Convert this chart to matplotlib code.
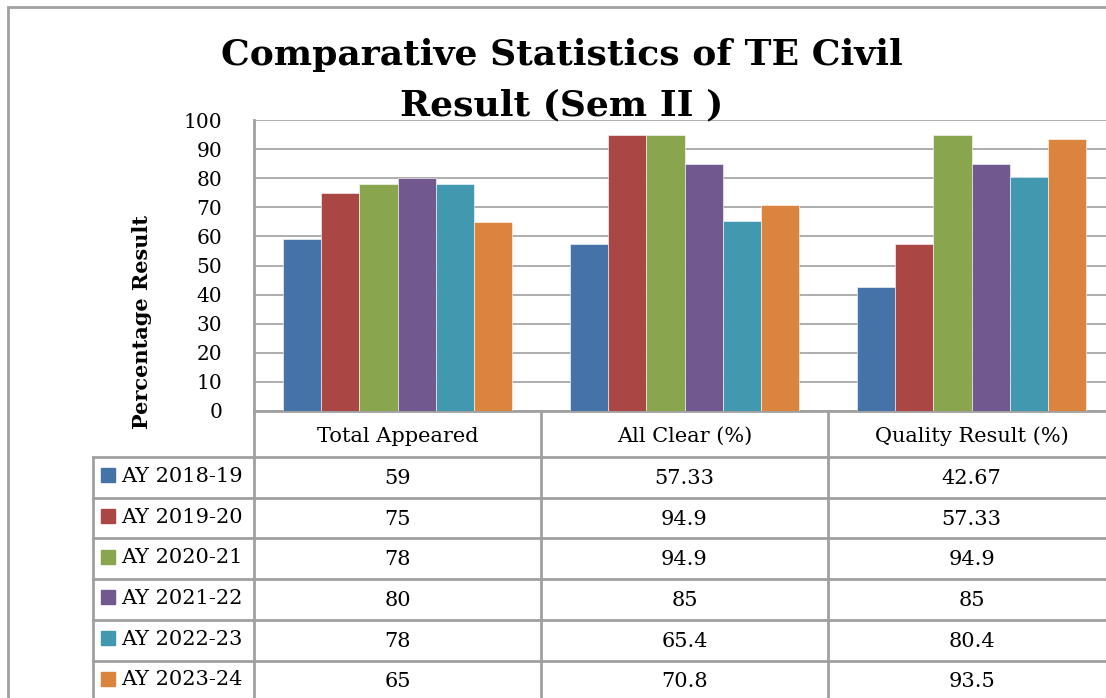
import matplotlib
matplotlib.use("Agg")
import matplotlib.pyplot as plt
from matplotlib.patches import Rectangle
from matplotlib.lines import Line2D

categories = ["Total Appeared", "All Clear (%)", "Quality Result (%)"]
years = ["AY 2018-19", "AY 2019-20", "AY 2020-21", "AY 2021-22", "AY 2022-23", "AY 2023-24"]
v2018 = [59, 57.33, 42.67]
v2019 = [75, 94.9, 57.33]
v2020 = [78, 94.9, 94.9]
v2021 = [80, 85, 85]
v2022 = [78, 65.4, 80.4]
v2023 = [65, 70.8, 93.5]
series = [v2018, v2019, v2020, v2021, v2022, v2023]
colors = ["#4572A7", "#AA4643", "#89A54E", "#71588F", "#4198AF", "#DB843D"]
yticks = [0, 10, 20, 30, 40, 50, 60, 70, 80, 90, 100]

W, H = 1106, 698
FONT = "DejaVu Serif"
GRID = "#a0a0a0"

fig = plt.figure(figsize=(W / 100, H / 100), dpi=100)


def px_rect(x0, y0, x1, y1):
    # pixel box (top-left origin) -> figure fraction rect
    return [x0 / W, (H - y1) / H, (x1 - x0) / W, (y1 - y0) / H]


# outer chart frame
fig.patches.append(Rectangle((8 / W, -0.1), 1.2, (H - 7) / H + 0.1, transform=fig.transFigure,
                             fill=False, edgecolor=GRID, linewidth=2))

col_w = 287
plot_left, plot_top, plot_bottom = 254, 120, 411
plot_right = plot_left + col_w * len(categories)

ax = fig.add_axes(px_rect(plot_left, plot_top, plot_right, plot_bottom))
n = len(series)
bw = 1 / (n + 1.5)
for i, vals in enumerate(series):
    xs = [c + (i - (n - 1) / 2) * bw for c in range(len(categories))]
    ax.bar(xs, vals, width=bw, color=colors[i], edgecolor="white", linewidth=0.4, zorder=3)
ax.set_xlim(-0.5, len(categories) - 0.5)
ax.set_ylim(0, 100)
ax.set_yticks(yticks)
ax.set_yticklabels([str(t) for t in yticks], fontfamily=FONT, fontsize=14.5)
ax.tick_params(axis="y", length=0, pad=23)
ax.set_xticks([])
ax.yaxis.grid(True, color=GRID, linewidth=1.2, zorder=0)
for s in ["top", "right"]:
    ax.spines[s].set_visible(False)
for s in ["left", "bottom"]:
    ax.spines[s].set_color(GRID)
    ax.spines[s].set_linewidth(2)
ax.set_ylabel("Percentage Result", fontfamily=FONT, fontsize=15, fontweight="bold")
ax.yaxis.set_label_coords(-102 / (plot_right - plot_left), 0.305)

# data table underneath, in pixel units
tab = fig.add_axes(px_rect(90, plot_bottom, plot_right, 703))
tab.set_xlim(90, plot_right)
tab.set_ylim(703, plot_bottom)
tab.axis("off")
row_h = 40.7
head_bottom = 457
lw = 2
# vertical lines
for k in range(len(categories) + 1):
    x = plot_left + k * col_w
    tab.add_line(Line2D([x, x], [plot_bottom, 703], color=GRID, linewidth=lw))
tab.add_line(Line2D([93, 93], [head_bottom, 703], color=GRID, linewidth=lw))
# horizontal lines
tab.add_line(Line2D([93, plot_right], [head_bottom, head_bottom], color=GRID, linewidth=lw))
for r in range(1, len(years) + 1):
    y = head_bottom + r * row_h
    tab.add_line(Line2D([93, plot_right], [y, y], color=GRID, linewidth=lw))
for k, cat in enumerate(categories):
    tab.text(plot_left + (k + 0.5) * col_w, (plot_bottom + head_bottom) / 2 + 2, cat,
             ha="center", va="center", fontfamily=FONT, fontsize=15)
for r, (yr, vals) in enumerate(zip(years, series)):
    yc = head_bottom + (r + 0.5) * row_h
    tab.add_patch(Rectangle((101, yc - 9), 14, 14, color=colors[r]))
    tab.text(121, yc - 1, yr, ha="left", va="center", fontfamily=FONT, fontsize=15)
    for k, v in enumerate(vals):
        tab.text(plot_left + (k + 0.5) * col_w, yc + 1, f"{v:g}", ha="center", va="center",
                 fontfamily=FONT, fontsize=15)

fig.text(562 / W, 1 - 55 / H, "Comparative Statistics of TE Civil", ha="center", va="center",
         fontfamily=FONT, fontsize=26, fontweight="bold")
fig.text(562 / W, 1 - 105 / H, "Result (Sem II )", ha="center", va="center",
         fontfamily=FONT, fontsize=26, fontweight="bold")

fig.savefig("out.png", dpi=100)
